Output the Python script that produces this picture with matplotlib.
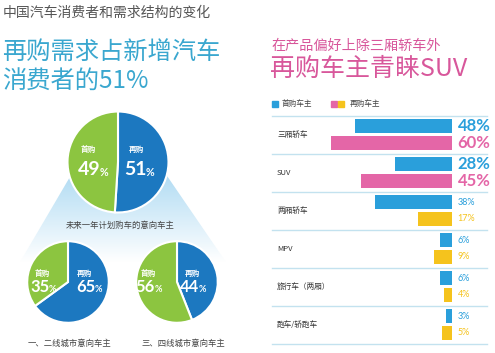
import numpy as np
import matplotlib.pyplot as plt
from matplotlib.patches import Polygon

plt.rcParams['font.family'] = ['Noto Sans CJK SC', 'DejaVu Sans']

# pie data: (repurchase, first purchase)
pie_values = [[51, 49], [65, 35], [44, 56]]
pie_captions = ["未来一年计划购车的意向车主", "一、二线城市意向车主", "三、四线城市意向车主"]

# bar data
categories = ["三厢轿车", "SUV", "两厢轿车", "MPV", "旅行车（两厢）", "跑车/轿跑车"]
first_buy = [48, 28, 38, 6, 6, 3]
re_buy = [60, 45, 17, 9, 4, 5]

W, H = 495, 353
BLUE = '#1c78c0'
GREEN = '#8cc540'
TEAL = '#3aa7cf'
PINK = '#d8579b'
BAR_BLUE = '#2a9fdb'
BAR_PINK = '#e466a7'
BAR_YEL = '#f5c31d'
LINE = '#c3e2ef'

fig = plt.figure(figsize=(W / 100, H / 100), dpi=100)
fig.patch.set_facecolor('white')
bg = fig.add_axes([0, 0, 1, 1])
bg.set_xlim(0, W)
bg.set_ylim(H, 0)
bg.axis('off')

# headings
bg.text(3, 13, "中国汽车消费者和需求结构的变化", fontsize=10, color='#555555', va='center', fontweight='light')
bg.text(2, 52, "再购需求占新增汽车", fontsize=17.5, color=TEAL, va='center', fontweight='light')
bg.text(2, 82, "消费者的51%", fontsize=17.5, color=TEAL, va='center', fontweight='light')

# light blue fan behind pies
poly = Polygon([(74, 170), (163, 170), (226, 262), (20, 262)], closed=True,
               facecolor='none', edgecolor='none')
bg.add_patch(poly)
grad = np.linspace(1, 0, 256).reshape(-1, 1)
cmap = plt.matplotlib.colors.LinearSegmentedColormap.from_list('g', ['#ffffff', '#a9d8f2'])
im = bg.imshow(grad, cmap=cmap, extent=(20, 226, 262, 165), aspect='auto', zorder=0)
im.set_clip_path(poly)
bg.set_xlim(0, W)
bg.set_ylim(H, 0)


def pie_axes(cx, cy, r):
    ax = fig.add_axes([(cx - r) / W, 1 - (cy + r) / H, 2 * r / W, 2 * r / H])
    ax.set_xlim(-1.03, 1.03)
    ax.set_ylim(-1.03, 1.03)
    ax.axis('off')
    return ax


def pct(ax, x, y, v, size):
    ax.text(x + 0.12, y, str(v), fontsize=size, color='white', fontweight='bold',
            family='Lato', ha='right', va='center')
    ax.text(x + 0.10, y - 0.06, "%", fontsize=size * 0.55, color='white',
            fontweight='bold', family='Lato', ha='left', va='center')


pies = [(118, 162, 52, 14, [(-0.58, 0.25), (-0.47, -0.15), (0.37, 0.25), (0.45, -0.15)]),
        (68, 282, 42, 12, [(-0.62, 0.21), (-0.58, -0.12), (0.4, 0.21), (0.55, -0.12)]),
        (177, 282, 42, 12, [(-0.7, 0.21), (-0.66, -0.12), (0.38, 0.21), (0.42, -0.12)])]

for vals, (cx, cy, r, fs, pos) in zip(pie_values, pies):
    ax = pie_axes(cx, cy, r)
    ax.pie(vals, colors=[BLUE, GREEN], startangle=90, counterclock=False, radius=1,
           wedgeprops=dict(edgecolor='white', linewidth=1.5))
    ax.set_xlim(-1.03, 1.03)
    ax.set_ylim(-1.03, 1.03)
    ax.text(pos[0][0], pos[0][1], "首购", fontsize=5.5, color='white', fontweight='bold',
            ha='center', va='center')
    pct(ax, pos[1][0], pos[1][1], vals[1], fs)
    ax.text(pos[2][0], pos[2][1], "再购", fontsize=5.5, color='white', fontweight='bold',
            ha='center', va='center')
    pct(ax, pos[3][0], pos[3][1], vals[0], fs)

bg.text(120, 225, pie_captions[0], fontsize=6, color='#444444', ha='center', va='center')
bg.text(70, 343, pie_captions[1], fontsize=6, color='#444444', ha='center', va='center')
bg.text(183, 343, pie_captions[2], fontsize=6, color='#444444', ha='center', va='center')

# right side headings
bg.text(271, 46, "在产品偏好上除三厢轿车外", fontsize=10.2, color=PINK, va='center', fontweight='light')
bg.text(270, 69, "再购车主青睐SUV", fontsize=18, color=PINK, va='center', fontweight='light')

# legend
bg.add_patch(plt.Rectangle((272, 101), 6, 6, color=BAR_BLUE))
bg.text(282, 104, "首购车主", fontsize=5.5, color='#444444', va='center')
bg.add_patch(plt.Rectangle((331, 101), 6, 6, color=BAR_PINK))
bg.add_patch(plt.Rectangle((338, 101), 6, 6, color=BAR_YEL))
bg.text(350, 104, "再购车主", fontsize=5.5, color='#444444', va='center')

# separators and category labels
top, step = 116, 38
for k in range(len(categories) + 1):
    bg.plot([272, 487], [top + step * k, top + step * k], color=LINE, lw=1)
for i, c in enumerate(categories):
    bg.text(277, top + step * (i + 0.5), c, fontsize=5.5, color='#333333', va='center')

# bars
x0, x1 = 452 - 2.02 * 70, 452
bax = fig.add_axes([x0 / W, 1 - (top + step * 6) / H, (x1 - x0) / W, step * 6 / H])
bax.set_xlim(70, 0)
bax.set_ylim(6, 0)
bax.axis('off')
y = np.arange(len(categories))
second_colors = [BAR_PINK, BAR_PINK] + [BAR_YEL] * 4
bax.barh(y + 0.27, first_buy, height=0.38, color=BAR_BLUE)
bax.barh(y + 0.71, re_buy, height=0.39, color=second_colors)
for i in range(len(categories)):
    big = i < 2
    fs = 12 if big else 6.5
    fw = 'bold' if big else 'normal'
    bax.annotate(f"{first_buy[i]}%", (0, y[i] + 0.27), xytext=(4, 0), textcoords='offset points',
                 fontsize=fs, fontweight=fw, color=BAR_BLUE, va='center', ha='left',
                 family='Lato', annotation_clip=False)
    bax.annotate(f"{re_buy[i]}%", (0, y[i] + 0.71), xytext=(4, 0), textcoords='offset points',
                 fontsize=fs, fontweight=fw, color=second_colors[i], va='center', ha='left',
                 family='Lato', annotation_clip=False)

fig.savefig('out.png', dpi=100)
